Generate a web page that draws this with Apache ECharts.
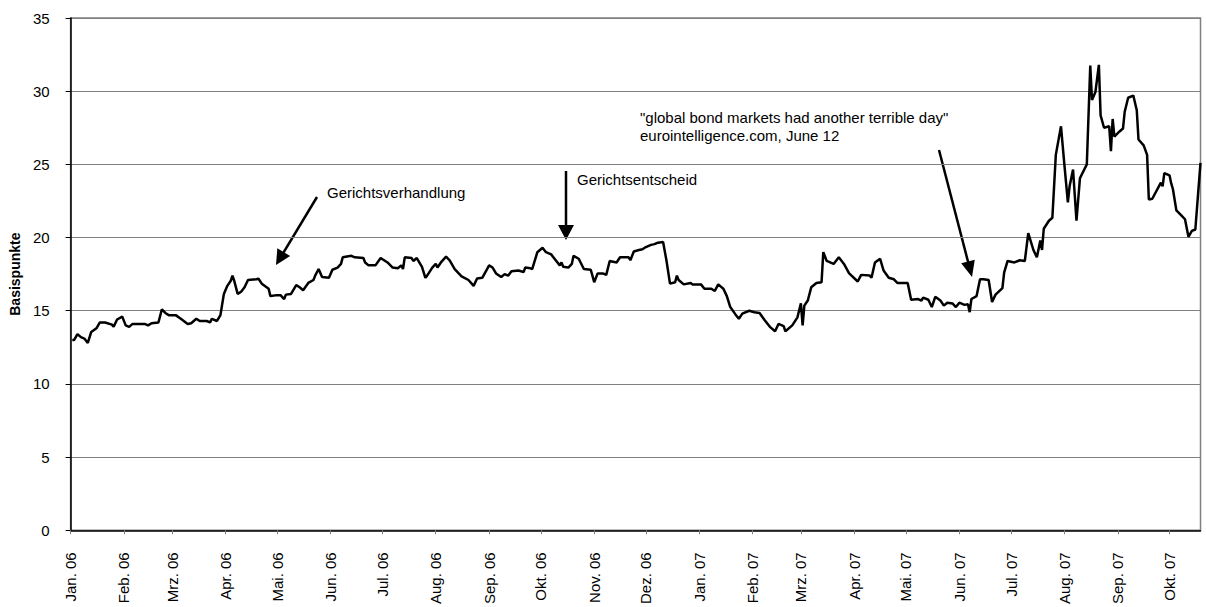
<!DOCTYPE html>
<html><head><meta charset="utf-8">
<script src="https://cdn.jsdelivr.net/npm/echarts@6/dist/echarts.min.js"></script>
<style>html,body{margin:0;padding:0;background:#fff}#c{width:1206px;height:607px}</style>
</head><body><div id="c"></div>
<script>
const dates2006 = ['2006-01-02','2006-01-03','2006-01-05','2006-01-07','2006-01-09','2006-01-11','2006-01-13','2006-01-16','2006-01-18','2006-01-21','2006-01-25','2006-01-26','2006-01-28','2006-01-31',
'2006-02-02','2006-02-04','2006-02-06','2006-02-09','2006-02-13','2006-02-15','2006-02-17','2006-02-21','2006-02-23','2006-02-25','2006-02-27',
'2006-03-03','2006-03-06','2006-03-10','2006-03-12','2006-03-15','2006-03-17','2006-03-21','2006-03-23','2006-03-24','2006-03-27','2006-03-29','2006-03-31',
'2006-04-02','2006-04-04','2006-04-05','2006-04-06','2006-04-08','2006-04-10','2006-04-12','2006-04-14','2006-04-19','2006-04-20','2006-04-22','2006-04-26','2006-04-27','2006-04-30',
'2006-05-03','2006-05-05','2006-05-06','2006-05-09','2006-05-12','2006-05-14','2006-05-16','2006-05-19','2006-05-22','2006-05-23','2006-05-25','2006-05-27','2006-05-31',
'2006-06-02','2006-06-05','2006-06-07','2006-06-08','2006-06-13','2006-06-15','2006-06-20','2006-06-21','2006-06-23','2006-06-27','2006-06-30',
'2006-07-04','2006-07-07','2006-07-10','2006-07-12','2006-07-13','2006-07-14','2006-07-18','2006-07-19','2006-07-21','2006-07-24','2006-07-26','2006-07-27','2006-07-30',
'2006-08-01','2006-08-02','2006-08-04','2006-08-07','2006-08-09','2006-08-12','2006-08-16','2006-08-20','2006-08-23','2006-08-25','2006-08-28',
'2006-09-01','2006-09-03','2006-09-05','2006-09-08','2006-09-10','2006-09-12','2006-09-14','2006-09-18','2006-09-21','2006-09-22','2006-09-25','2006-09-26','2006-09-29',
'2006-10-02','2006-10-04','2006-10-07','2006-10-10','2006-10-12','2006-10-13','2006-10-14','2006-10-17','2006-10-19','2006-10-20','2006-10-23','2006-10-26','2006-10-30',
'2006-11-01','2006-11-03','2006-11-06','2006-11-08','2006-11-10','2006-11-14','2006-11-16','2006-11-21','2006-11-22','2006-11-24','2006-11-27','2006-11-29',
'2006-12-01','2006-12-04','2006-12-06','2006-12-08','2006-12-11','2006-12-13','2006-12-15','2006-12-18','2006-12-19','2006-12-20','2006-12-23','2006-12-27','2006-12-28'];
const values2006 = [13.0,13.0,13.4,13.2,13.1,12.8,13.55,13.8,14.2,14.2,14.05,13.9,14.4,14.6,
14.0,13.9,14.1,14.1,14.1,14.0,14.15,14.2,15.1,14.85,14.7,
14.7,14.45,14.1,14.15,14.45,14.3,14.3,14.2,14.45,14.3,14.7,16.15,
16.7,17.05,17.4,17.05,16.15,16.3,16.6,17.1,17.15,17.2,16.85,16.5,16.0,16.05,
16.05,15.8,16.1,16.15,16.75,16.6,16.4,16.9,17.1,17.4,17.85,17.3,17.25,
17.8,17.95,18.2,18.65,18.75,18.65,18.6,18.3,18.1,18.1,18.6,
18.3,17.95,17.9,18.1,17.85,18.65,18.6,18.4,18.6,18.0,17.25,17.4,17.95,
18.2,17.95,18.3,18.7,18.45,17.85,17.35,17.1,16.7,17.2,17.25,
18.1,17.95,17.55,17.3,17.5,17.4,17.7,17.75,17.65,17.95,17.9,17.85,19.0,
19.3,19.0,18.85,18.4,18.1,18.3,18.0,17.95,18.2,18.75,18.55,17.85,17.8,
16.95,17.55,17.55,17.45,18.4,18.3,18.65,18.65,18.45,19.05,19.15,19.2,
19.35,19.5,19.55,19.65,19.7,18.4,16.85,16.95,17.4,17.1,16.8,16.9,16.8];
const dates2007 = ['2007-01-02','2007-01-04','2007-01-08','2007-01-10','2007-01-12','2007-01-15','2007-01-17','2007-01-19','2007-01-22','2007-01-24','2007-01-26','2007-01-30',
'2007-02-02','2007-02-05','2007-02-08','2007-02-11','2007-02-14','2007-02-16','2007-02-19','2007-02-20','2007-02-24','2007-02-27',
'2007-03-01','2007-03-02','2007-03-03','2007-03-05','2007-03-07','2007-03-10','2007-03-13','2007-03-14','2007-03-16','2007-03-20','2007-03-23','2007-03-26','2007-03-29',
'2007-04-03','2007-04-05','2007-04-10','2007-04-11','2007-04-13','2007-04-16','2007-04-18','2007-04-21','2007-04-24','2007-04-26',
'2007-05-02','2007-05-04','2007-05-08','2007-05-10','2007-05-11','2007-05-14','2007-05-16','2007-05-18','2007-05-21','2007-05-23','2007-05-25','2007-05-28','2007-05-30',
'2007-06-01','2007-06-04','2007-06-06','2007-06-07','2007-06-08','2007-06-11','2007-06-13','2007-06-15','2007-06-18','2007-06-20','2007-06-22','2007-06-26','2007-06-27','2007-06-29',
'2007-07-03','2007-07-06','2007-07-09','2007-07-11','2007-07-14','2007-07-16','2007-07-18','2007-07-19','2007-07-20','2007-07-23','2007-07-25','2007-07-27','2007-07-30',
'2007-08-01','2007-08-03','2007-08-04','2007-08-06','2007-08-08','2007-08-10','2007-08-14','2007-08-16','2007-08-17','2007-08-19','2007-08-21','2007-08-22','2007-08-24','2007-08-27','2007-08-28','2007-08-29','2007-08-30',
'2007-09-02','2007-09-04','2007-09-05','2007-09-07','2007-09-10','2007-09-12','2007-09-13','2007-09-16','2007-09-18','2007-09-19','2007-09-21','2007-09-26','2007-09-27','2007-09-28',
'2007-10-01','2007-10-02','2007-10-03','2007-10-05','2007-10-08','2007-10-10','2007-10-12','2007-10-14','2007-10-16','2007-10-19'];
const values2007 = [16.8,16.5,16.5,16.35,16.8,16.5,16.0,15.25,14.75,14.45,14.8,15.0,
14.9,14.85,14.35,13.9,13.6,14.1,13.95,13.6,14.0,14.55,
15.5,14.0,15.35,15.7,16.6,16.9,16.95,19.0,18.4,18.2,18.65,18.2,17.55,
17.0,17.45,17.4,17.25,18.3,18.55,17.75,17.25,17.15,16.9,
16.9,15.75,15.8,15.7,15.9,15.75,15.25,15.95,15.7,15.35,15.55,15.5,15.25,
15.55,15.4,15.45,14.9,15.8,16.0,17.15,17.15,17.1,15.6,16.1,16.55,17.6,18.4,
18.3,18.45,18.4,20.3,19.15,18.65,19.8,19.15,20.6,21.15,21.35,25.65,27.6,
24.95,22.4,23.5,24.65,21.15,24.05,25.0,31.75,29.4,29.95,31.8,28.35,27.5,27.6,25.9,28.1,26.9,
27.25,27.45,28.6,29.55,29.7,28.7,26.7,26.3,25.65,22.6,22.65,23.75,23.5,24.4,
24.25,23.7,23.3,21.85,21.5,21.25,20.05,20.45,20.55,25.1];
const tickDates = ['2006-01-01','2006-02-01','2006-03-01','2006-04-01','2006-05-01','2006-06-01','2006-07-01','2006-08-01','2006-09-01','2006-10-01','2006-11-01','2006-12-01',
'2007-01-01','2007-02-01','2007-03-01','2007-04-01','2007-05-01','2007-06-01','2007-07-01','2007-08-01','2007-09-01','2007-10-01'];
const tickLabels = ['Jan. 06','Feb. 06','Mrz. 06','Apr. 06','Mai. 06','Jun. 06','Jul. 06','Aug. 06','Sep. 06','Okt. 06','Nov. 06','Dez. 06',
'Jan. 07','Feb. 07','Mrz. 07','Apr. 07','Mai. 07','Jun. 07','Jul. 07','Aug. 07','Sep. 07','Okt. 07'];
const axisStart = '2006-01-01';
const axisEnd = '2007-10-19';
const yMin = 0, yMax = 35, yStep = 5;
const yTitle = 'Basispunkte';
const note1 = 'Gerichtsverhandlung';
const note2 = 'Gerichtsentscheid';
const note3a = '"global bond markets had another terrible day"';
const note3b = 'eurointelligence.com, June 12';

function ts(s){const p=s.split('-').map(Number);return Date.UTC(p[0],p[1]-1,p[2]);}
const tickTs = tickDates.map(ts);
const labelMap = {};
tickTs.forEach((t,i)=>{labelMap[t]=tickLabels[i];});
const seriesData = dates2006.map((d,i)=>[ts(d),values2006[i]])
  .concat(dates2007.map((d,i)=>[ts(d),values2007[i]]));

const FONT = '"Liberation Sans", Arial, Helvetica, sans-serif';
function arrow(x1,y1,x2,y2,hl,hw){
  const dx=x2-x1, dy=y2-y1, L=Math.hypot(dx,dy), ux=dx/L, uy=dy/L;
  const bx=x2-ux*hl, by=y2-uy*hl, px=-uy, py=ux;
  return [
    {type:'line', shape:{x1:x1,y1:y1,x2:bx+ux*2,y2:by+uy*2}, style:{stroke:'#000',lineWidth:2.5}},
    {type:'polygon', shape:{points:[[x2,y2],[bx+px*hw/2,by+py*hw/2],[bx-px*hw/2,by-py*hw/2]]}, style:{fill:'#000'}}
  ];
}
function txt(t,x,y){
  return {type:'text', x:x, y:y, style:{text:t, fill:'#000', font:'15px '+FONT, textAlign:'left', textVerticalAlign:'middle'}};
}

const chart = echarts.init(document.getElementById('c'), null, {renderer:'svg'});
chart.setOption({
  animation: false,
  backgroundColor: '#fff',
  textStyle: {fontFamily: FONT},
  grid: {left: 69.3, right: 5.5, top: 18, bottom: 72.5, show: true, borderColor: '#808080', borderWidth: 1.5},
  xAxis: {
    type: 'value', min: ts(axisStart), max: ts(axisEnd), scale: true,
    axisLine: {show: true, lineStyle: {color: '#000', width: 1.5}},
    axisTick: {show: true, customValues: tickTs, length: 4, lineStyle: {color: '#808080'}},
    axisLabel: {customValues: tickTs, rotate: 90, margin: 22, fontSize: 15, color: '#000', fontFamily: FONT,
      formatter: function(v){ return labelMap[v] || ''; }},
    splitLine: {show: false}
  },
  yAxis: {
    type: 'value', min: yMin, max: yMax, interval: yStep,
    name: yTitle, nameLocation: 'middle', nameGap: 45,
    nameTextStyle: {fontWeight: 'bold', fontSize: 14, color: '#000', fontFamily: FONT},
    axisLine: {show: true, lineStyle: {color: '#000', width: 1.5}},
    axisTick: {show: true, length: 5, lineStyle: {color: '#000'}},
    axisLabel: {margin: 21, fontSize: 15, color: '#000', fontFamily: FONT},
    splitLine: {show: true, lineStyle: {color: '#808080', width: 1}}
  },
  series: [{
    type: 'line', data: seriesData, symbol: 'none', showSymbol: false,
    lineStyle: {color: '#000', width: 2.5}, itemStyle: {color: '#000'}
  }],
  graphic: [].concat(
    arrow(317,197,276,265,15,15),
    arrow(566,171,566,240,15,16),
    arrow(939,150,972,277,16,14),
    [txt(note1,327,192), txt(note2,577,179), txt(note3a,640,117), txt(note3b,640,135)]
  )
});
</script></body></html>
